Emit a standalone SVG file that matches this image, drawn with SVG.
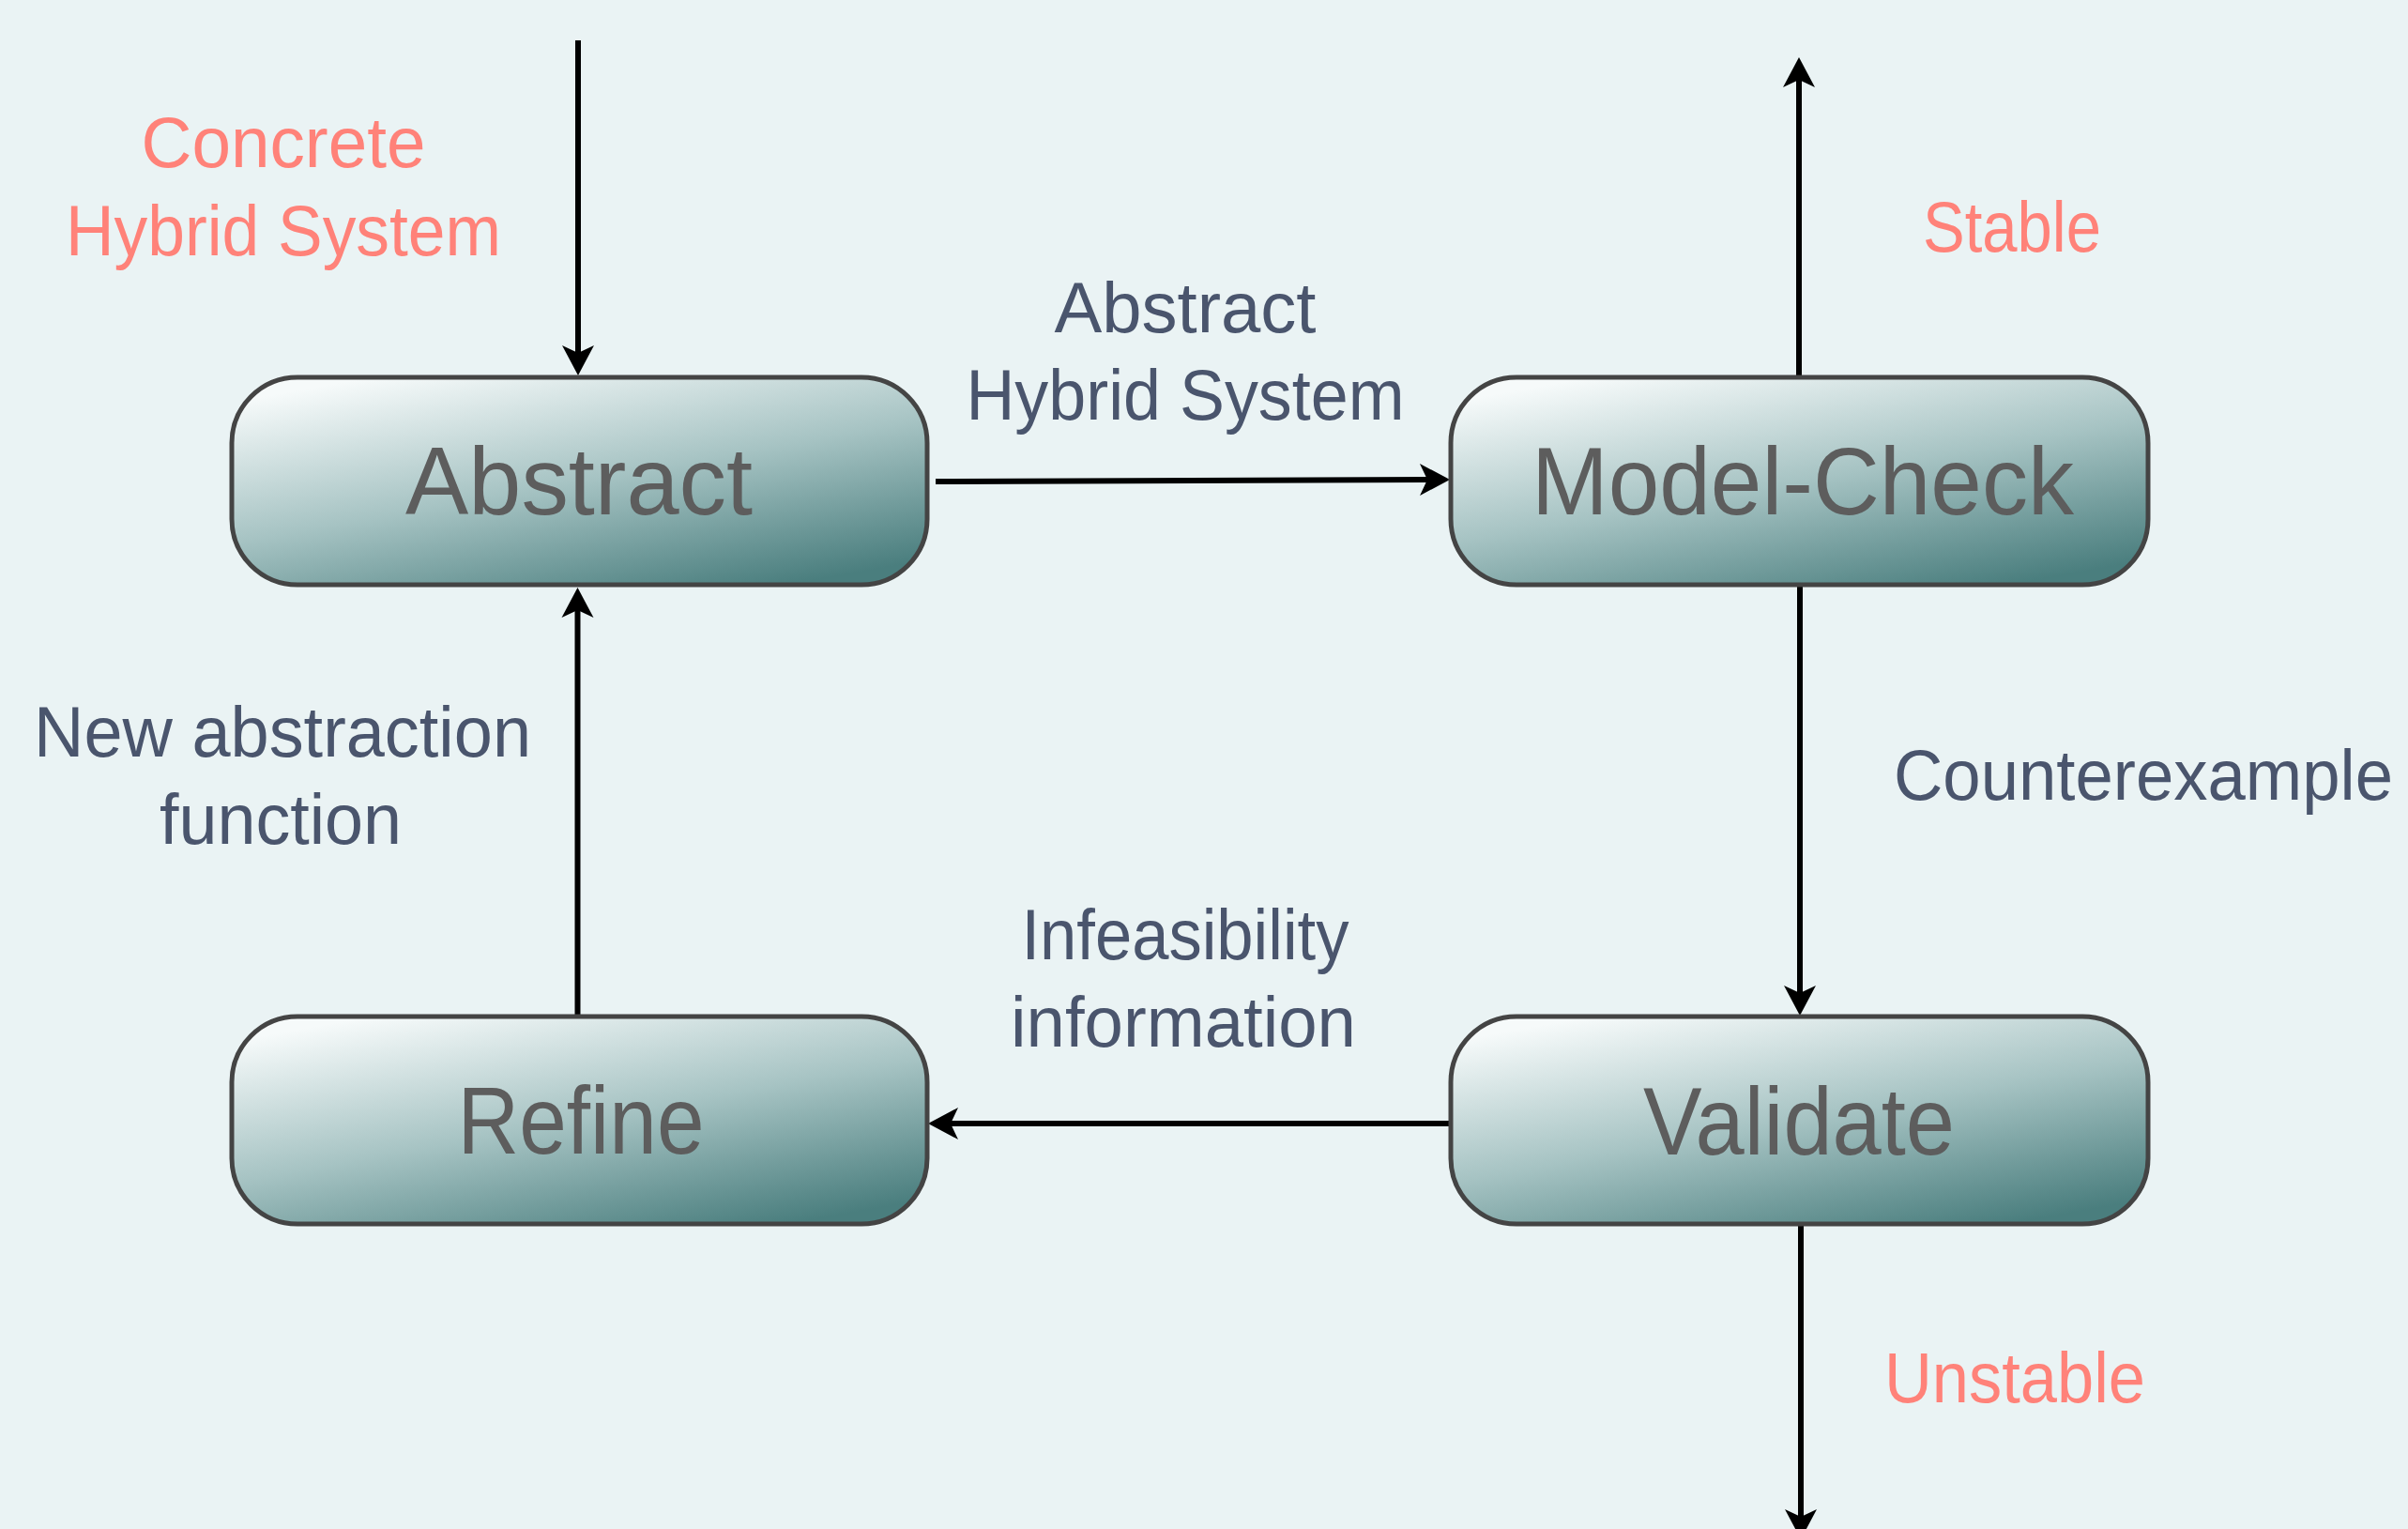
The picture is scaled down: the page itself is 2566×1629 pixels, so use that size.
<svg xmlns="http://www.w3.org/2000/svg" width="2566" height="1629" viewBox="0 0 2566 1629">
<style>
.node rect{fill:url(#g);stroke:#444;stroke-width:5}
.nt{font-family:"Liberation Sans",Arial,sans-serif;font-size:102px;fill:#5d5d5d;text-anchor:middle}
.lb{font-family:"Liberation Sans",Arial,sans-serif;font-size:76px;text-anchor:middle}
.red{fill:#ff8279}
.dk{fill:#4a556d}
.conn line{stroke:#000;stroke-width:6;marker-end:url(#ah)}
</style>
<defs>
<linearGradient id="g" x1="0.2" y1="0" x2="0.8" y2="1">
<stop offset="0" stop-color="#f6fafa"/>
<stop offset="0.5" stop-color="#a6c3c3"/>
<stop offset="1" stop-color="#4a7e7e"/>
</linearGradient>
<marker id="ah" markerUnits="userSpaceOnUse" markerWidth="80" markerHeight="80" refX="0" refY="0" viewBox="-40 -40 80 80" orient="auto" overflow="visible">
<path d="M22,0 L-10,-17 L-2,0 L-10,17 Z" fill="#000"/>
</marker>
</defs>
<rect width="2566" height="1629" fill="#eaf3f4"/>
<g id="connectors" class="conn">
<line x1="616" y1="43" x2="616" y2="378"/>
<line x1="997" y1="513" x2="1523" y2="511"/>
<line x1="1918" y1="623" x2="1918" y2="1060"/>
<line x1="1546" y1="1197" x2="1011" y2="1197"/>
<line x1="615.5" y1="1083" x2="615.5" y2="648"/>
<line x1="1917" y1="402" x2="1917" y2="83"/>
<line x1="1919" y1="1304" x2="1919" y2="1618"/>
</g>
<g id="node-abstract" class="node">
<rect x="247" y="402" width="741" height="221" rx="70" ry="70"/>
<text class="nt" x="617" y="548" textLength="370" lengthAdjust="spacingAndGlyphs">Abstract</text>
</g>
<g id="node-modelcheck" class="node">
<rect x="1546" y="402" width="743" height="221" rx="70" ry="70"/>
<text class="nt" x="1921" y="548" textLength="578" lengthAdjust="spacingAndGlyphs">Model-Check</text>
</g>
<g id="node-refine" class="node">
<rect x="247" y="1083" width="741" height="221" rx="70" ry="70"/>
<text class="nt" x="619" y="1229" textLength="263" lengthAdjust="spacingAndGlyphs">Refine</text>
</g>
<g id="node-validate" class="node">
<rect x="1546" y="1083" width="743" height="221" rx="70" ry="70"/>
<text class="nt" x="1917" y="1230" textLength="332" lengthAdjust="spacingAndGlyphs">Validate</text>
</g>
<g id="labels">
<text class="lb red" x="302" y="178" textLength="303" lengthAdjust="spacingAndGlyphs">Concrete</text>
<text class="lb red" x="302" y="272" textLength="464" lengthAdjust="spacingAndGlyphs">Hybrid System</text>
<text class="lb red" x="2144" y="268" textLength="190" lengthAdjust="spacingAndGlyphs">Stable</text>
<text class="lb dk" x="1263" y="354" textLength="279" lengthAdjust="spacingAndGlyphs">Abstract</text>
<text class="lb dk" x="1263" y="447" textLength="467" lengthAdjust="spacingAndGlyphs">Hybrid System</text>
<text class="lb dk" x="2284" y="852" textLength="532" lengthAdjust="spacingAndGlyphs">Counterexample</text>
<text class="lb dk" x="301" y="806" textLength="530" lengthAdjust="spacingAndGlyphs">New abstraction</text>
<text class="lb dk" x="299" y="899" textLength="258" lengthAdjust="spacingAndGlyphs">function</text>
<text class="lb dk" x="1263" y="1022" textLength="349" lengthAdjust="spacingAndGlyphs">Infeasibility</text>
<text class="lb dk" x="1261" y="1115" textLength="368" lengthAdjust="spacingAndGlyphs">information</text>
<text class="lb red" x="2147" y="1494" textLength="278" lengthAdjust="spacingAndGlyphs">Unstable</text>
</g>
</svg>
